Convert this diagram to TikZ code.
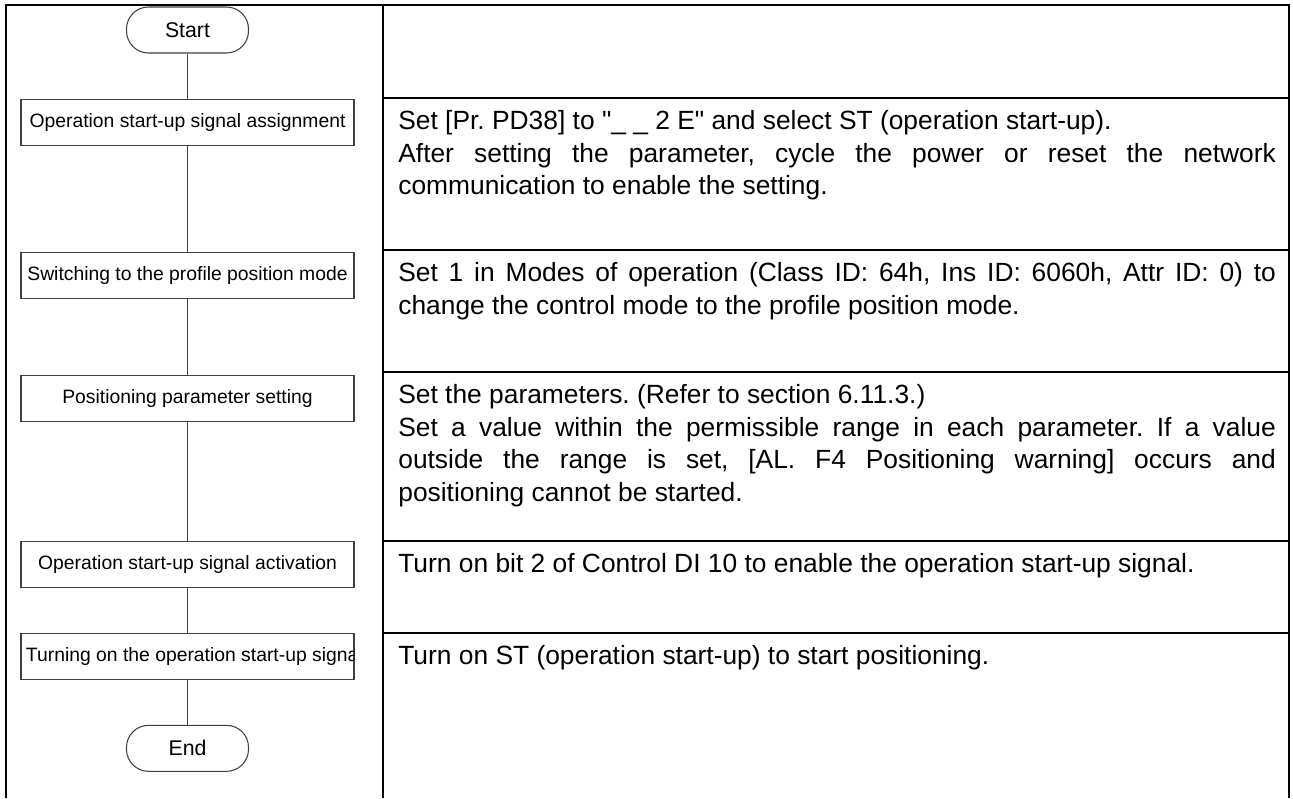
\documentclass[tikz,border=0pt]{standalone}
\usepackage{fontspec}
\newfontfamily\docfont{Liberation Sans}
\usetikzlibrary{positioning}
\setlength{\parindent}{0pt}
\frenchspacing

\begin{document}
\begin{tikzpicture}[
        node distance=0.9cm,
        term/.style={
            draw=black!75,
            rounded corners=0.44cm,
            minimum width=2.44cm,
            minimum height=0.92cm,
            line width=0.6pt,
            font=\docfont\fontsize{12.1pt}{14pt}\selectfont
        },
        stepbox/.style={
            draw=black!75,
            minimum width=6.66cm,
            minimum height=0.92cm,
            inner sep=0pt,
            line width=0.6pt,
            font=\docfont\fontsize{11pt}{13pt}\selectfont
        },
        note/.style={
            anchor=north west,
            inner sep=0pt,
            text width=17.55cm,
            align=justify,
            font=\docfont\fontsize{15pt}{18.5pt}\selectfont
        },
        link/.style={line width=0.6pt, black!75},
        rule/.style={line width=1.1pt, black}
    ]
    \useasboundingbox (0,0) rectangle (25.86,-15.96);

    % Table frame
    \draw[rule] (0.12,-15.96) -- (0.12,-0.10) -- (25.78,-0.10) -- (25.78,-15.96);
    \draw[rule] (7.66,-0.10) -- (7.66,-15.96);
    \foreach \y in {-1.96,-5.00,-7.44,-10.82,-12.66}
        \draw[rule] (7.66,\y) -- (25.78,\y);

    % Flowchart
    \node[term] (start) at (3.75,-0.60) {Start};
    \node[stepbox, below=0.9cm of start] (assign) {Operation start-up signal assignment};
    \node[stepbox, below=2.12cm of assign] (switch) {Switching to the profile position mode};
    \node[stepbox, below=1.52cm of switch] (param) {Positioning parameter setting};
    \node[stepbox, below=2.38cm of param] (activ) {Operation start-up signal activation};
    \node[stepbox, below=0.9cm of activ] (turnon) {};
    \node[term, below=0.9cm of turnon] (stop) {End};

    % text of the last step runs past its box
    \begin{scope}
        \clip (turnon.south west) rectangle (turnon.north east);
        \node[stepbox, draw=none, minimum width=0pt, anchor=west] (turnontext) at ([xshift=0.1cm]turnon.west) {Turning on the operation start-up signal};
    \end{scope}

    \draw[link] (start) -- (assign);
    \draw[link] (assign) -- (switch);
    \draw[link] (switch) -- (param);
    \draw[link] (param) -- (activ);
    \draw[link] (activ) -- (turnon);
    \draw[link] (turnon) -- (stop);

    % Descriptions
    \node[note] (n1) at (7.96,-2.21) {Set [Pr. PD38] to "\_ \_ 2 E" and select ST (operation start-up).\\
        After setting the parameter, cycle the power or reset the network\linebreak
        communication to enable the setting.};
    \node[note] (n2) at (7.96,-5.25) {Set 1 in Modes of operation (Class ID: 64h, Ins ID: 6060h, Attr ID: 0) to\linebreak
        change the control mode to the profile position mode.};
    \node[note] (n3) at (7.96,-7.69) {Set the parameters. (Refer to section 6.11.3.)\\
        Set a value within the permissible range in each parameter. If a value\linebreak
        outside the range is set, [AL. F4 Positioning warning] occurs and\linebreak
        positioning cannot be started.};
    \node[note] (n4) at (7.96,-11.07) {Turn on bit 2 of Control DI 10 to enable the operation start-up signal.};
    \node[note] (n5) at (7.96,-12.91) {Turn on ST (operation start-up) to start positioning.};
\end{tikzpicture}
\end{document}
